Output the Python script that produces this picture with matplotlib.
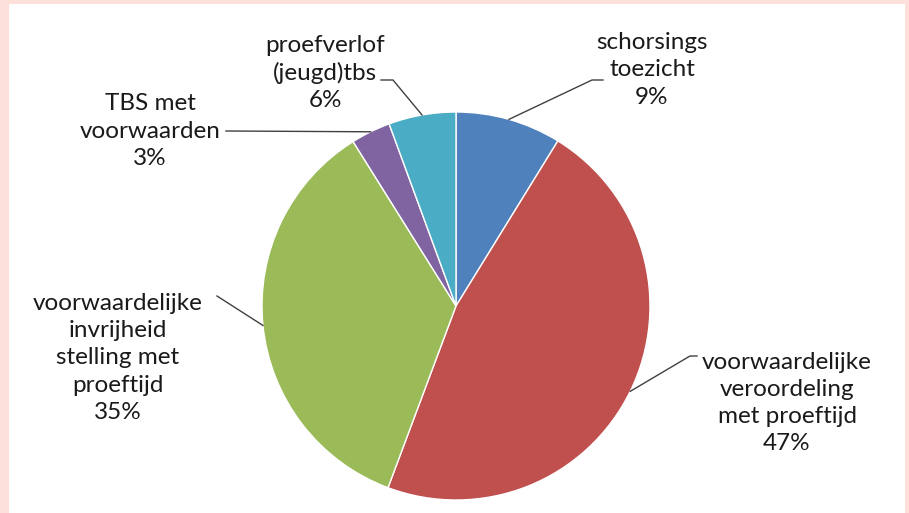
import numpy as np
import matplotlib.pyplot as plt
from matplotlib.patches import Rectangle

# Data (share of each measure)
labels = ["schorsings\ntoezicht", "voorwaardelijke\nveroordeling\nmet proeftijd",
          "voorwaardelijke\ninvrijheid\nstelling met\nproeftijd",
          "TBS met\nvoorwaarden", "proefverlof\n(jeugd)tbs"]
values = [8.8, 46.9, 35.4, 3.3, 5.6]
colors = ["#4F81BD", "#C0504D", "#9BBB59", "#8064A2", "#4BACC6"]

W, H = 909, 513
fig = plt.figure(figsize=(W / 100, H / 100), dpi=100)
fig.patch.set_facecolor("#FDE0DA")
# white chart area inside the pink frame (behind the axes)
fig.patches.append(Rectangle((9 / W, 0), (905 - 9) / W, (H - 4) / H,
                             transform=fig.transFigure, facecolor="white",
                             edgecolor="none", zorder=-1))

ax = fig.add_axes([0, 0, 1, 1])
ax.patch.set_alpha(0)

cx, cy, r = 456, H - 306, 194
wedges, _ = ax.pie(values, colors=colors, startangle=90, counterclock=False,
                   center=(cx, cy), radius=r,
                   wedgeprops=dict(edgecolor="white", linewidth=1))
# pie() resets the limits, so set them afterwards
ax.set_xlim(0, W)
ax.set_ylim(0, H)
ax.set_aspect("equal")
ax.axis("off")

# label layout: text centre, knee of leader line, end of leader line (pixel coords, y down)
layout = [
    dict(text=(652, 70), knee=(592, 80), end=(603, 80)),
    dict(text=(787, 403), knee=(690, 356), end=(697, 356)),
    dict(text=(118, 358), knee=(217, 296), end=(217, 296)),
    dict(text=(150, 131), knee=(226, 131), end=(226, 131)),
    dict(text=(325, 73), knee=(393, 80), end=(381, 80)),
]

for w, lab, v, lay in zip(wedges, labels, values, layout):
    ang = np.deg2rad((w.theta1 + w.theta2) / 2)
    ex, ey = cx + r * np.cos(ang), cy + r * np.sin(ang)
    kx, ky = lay["knee"]
    nx, ny = lay["end"]
    ax.plot([ex, kx, nx], [ey, H - ky, H - ny], color="#404040", lw=1, zorder=3)
    tx, ty = lay["text"]
    ax.text(tx, H - ty, f"{lab}\n{v:.0f}%", ha="center", va="center",
            fontsize=17.5, family="Lato", color="#1a1a1a", linespacing=1.36)

fig.savefig("out.png", dpi=100)
